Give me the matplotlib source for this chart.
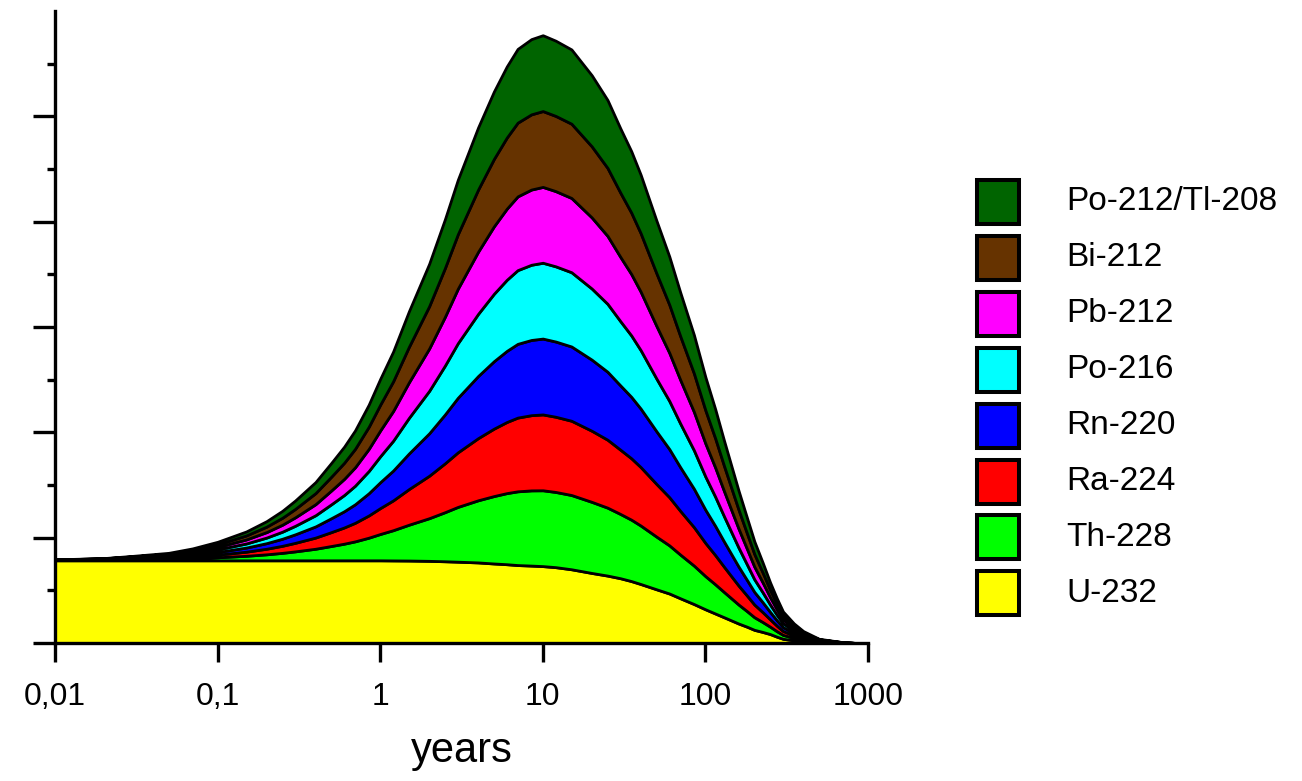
import numpy as np
import matplotlib
matplotlib.use("Agg")
import matplotlib.pyplot as plt
from matplotlib.patches import Rectangle
from matplotlib.ticker import NullLocator

plt.rcParams['font.family'] = ['Liberation Sans', 'DejaVu Sans']

# time axis (years) and activity of each nuclide
years = [0.01, 0.02, 0.03, 0.05, 0.07, 0.1, 0.15, 0.2, 0.25, 0.3, 0.4, 0.5, 0.6, 0.7, 0.85,
         1, 1.2, 1.5, 2, 2.5, 3, 4, 5, 6, 7, 8.5, 10, 12, 15, 20, 25, 30, 35, 40, 50,
         60, 70, 85, 100, 115, 130, 160, 180, 200, 225, 250, 275, 300, 350, 400, 500, 700, 850]

u232 = [0.785, 0.785, 0.785, 0.785, 0.785, 0.785, 0.785, 0.785, 0.785, 0.785, 0.785, 0.785,
        0.785, 0.785, 0.785, 0.785, 0.784, 0.783, 0.78, 0.776, 0.772, 0.765, 0.755, 0.748,
        0.74, 0.735, 0.73, 0.72, 0.70, 0.665, 0.64, 0.615, 0.588, 0.56, 0.51, 0.47, 0.425,
        0.37, 0.32, 0.28, 0.245, 0.185, 0.155, 0.125, 0.105, 0.085, 0.06, 0.04, 0.025, 0.015,
        0.005, 0.001, 0.0]
th228 = [0.003, 0.006, 0.009, 0.014, 0.02, 0.029, 0.043, 0.057, 0.071, 0.085, 0.11, 0.136,
         0.158, 0.18, 0.215, 0.25, 0.287, 0.34, 0.405, 0.466, 0.52, 0.59, 0.64, 0.675, 0.70,
         0.714, 0.72, 0.714, 0.705, 0.675, 0.645, 0.61, 0.583, 0.555, 0.50, 0.457, 0.415,
         0.365, 0.315, 0.277, 0.24, 0.18, 0.148, 0.12, 0.094, 0.07, 0.052, 0.037, 0.023,
         0.014, 0.005, 0.001, 0.0]
ra224 = [0.001, 0.003, 0.006, 0.01, 0.016, 0.025, 0.039, 0.053, 0.067, 0.081, 0.106, 0.132,
         0.154, 0.176, 0.211, 0.246, 0.283, 0.338, 0.403, 0.464, 0.518, 0.59, 0.64, 0.675, 0.70,
         0.714, 0.72, 0.714, 0.705, 0.675, 0.645, 0.61, 0.583, 0.555, 0.50, 0.457, 0.415,
         0.365, 0.315, 0.277, 0.24, 0.18, 0.148, 0.12, 0.094, 0.07, 0.052, 0.037, 0.023,
         0.014, 0.005, 0.001, 0.0]
rn220 = [0.001, 0.003, 0.006, 0.01, 0.016, 0.025, 0.039, 0.053, 0.067, 0.081, 0.106, 0.132,
         0.154, 0.176, 0.211, 0.246, 0.283, 0.338, 0.403, 0.464, 0.518, 0.59, 0.64, 0.675, 0.70,
         0.714, 0.72, 0.714, 0.705, 0.675, 0.645, 0.61, 0.583, 0.555, 0.50, 0.457, 0.415,
         0.365, 0.315, 0.277, 0.24, 0.18, 0.148, 0.12, 0.094, 0.07, 0.052, 0.037, 0.023,
         0.014, 0.005, 0.001, 0.0]
po216 = [0.001, 0.003, 0.006, 0.01, 0.016, 0.025, 0.039, 0.053, 0.067, 0.081, 0.106, 0.132,
         0.154, 0.176, 0.211, 0.246, 0.283, 0.338, 0.403, 0.464, 0.518, 0.59, 0.64, 0.675, 0.70,
         0.714, 0.72, 0.714, 0.705, 0.675, 0.645, 0.61, 0.583, 0.555, 0.50, 0.457, 0.415,
         0.365, 0.315, 0.277, 0.24, 0.18, 0.148, 0.12, 0.094, 0.07, 0.052, 0.037, 0.023,
         0.014, 0.005, 0.001, 0.0]
pb212 = [0.001, 0.002, 0.005, 0.009, 0.015, 0.024, 0.038, 0.052, 0.066, 0.08, 0.105, 0.131,
         0.153, 0.175, 0.21, 0.245, 0.282, 0.337, 0.402, 0.463, 0.517, 0.59, 0.64, 0.675, 0.70,
         0.714, 0.72, 0.714, 0.705, 0.675, 0.645, 0.61, 0.583, 0.555, 0.50, 0.457, 0.415,
         0.365, 0.315, 0.277, 0.24, 0.18, 0.148, 0.12, 0.094, 0.07, 0.052, 0.037, 0.023,
         0.014, 0.005, 0.001, 0.0]
bi212 = [0.001, 0.002, 0.005, 0.009, 0.015, 0.024, 0.038, 0.052, 0.066, 0.08, 0.105, 0.131,
         0.153, 0.175, 0.21, 0.245, 0.282, 0.337, 0.402, 0.463, 0.517, 0.59, 0.64, 0.675, 0.70,
         0.714, 0.72, 0.714, 0.705, 0.675, 0.645, 0.61, 0.583, 0.555, 0.50, 0.457, 0.415,
         0.365, 0.315, 0.277, 0.24, 0.18, 0.148, 0.12, 0.094, 0.07, 0.052, 0.037, 0.023,
         0.014, 0.005, 0.001, 0.0]
po212 = [0.001, 0.002, 0.005, 0.009, 0.015, 0.024, 0.038, 0.052, 0.066, 0.08, 0.105, 0.131,
         0.153, 0.175, 0.21, 0.245, 0.282, 0.337, 0.402, 0.463, 0.517, 0.59, 0.64, 0.675, 0.70,
         0.714, 0.72, 0.714, 0.705, 0.675, 0.645, 0.61, 0.583, 0.555, 0.50, 0.457, 0.415,
         0.365, 0.315, 0.277, 0.24, 0.18, 0.148, 0.12, 0.094, 0.07, 0.052, 0.037, 0.023,
         0.014, 0.005, 0.001, 0.0]

names = ["U-232", "Th-228", "Ra-224", "Rn-220", "Po-216", "Pb-212", "Bi-212", "Po-212/Tl-208"]
colors = ["#ffff00", "#00ff00", "#ff0000", "#0000ff", "#00ffff", "#ff00ff", "#663300", "#006400"]

xticks = [0.01, 0.1, 1, 10, 100, 1000]
xticklabels = ["0,01", "0,1", "1", "10", "100", "1000"]

W, H = 1302, 781
fig = plt.figure(figsize=(W / 100, H / 100), dpi=100)
ax = fig.add_axes([55 / W, (H - 643) / H, 813 / W, (643 - 11) / H])

ax.stackplot(years, u232, th228, ra224, rn220, po216, pb212, bi212, po212,
             colors=colors, edgecolor="black", linewidth=2.0)

ax.set_xscale("log")
ax.set_xlim(0.01, 1000)
ax.set_ylim(0, 6.0)

for s in ["top", "right"]:
    ax.spines[s].set_visible(False)
for s in ["left", "bottom"]:
    ax.spines[s].set_linewidth(2.4)

ax.set_xticks(xticks)
ax.set_xticklabels(xticklabels, fontsize=23)
ax.xaxis.set_minor_locator(NullLocator())
ax.tick_params(axis="x", direction="out", length=14, width=2.4, pad=14)

ax.set_yticks(range(6))
ax.set_yticks(np.arange(0.5, 6, 1), minor=True)
ax.set_yticklabels([])
ax.tick_params(axis="y", which="major", direction="out", length=16, width=2.4)
ax.tick_params(axis="y", which="minor", direction="out", length=6, width=2.4)

ax.set_xlabel("years", fontsize=30, labelpad=14)

# legend drawn by hand, top entry first
box_tops = [178, 234, 290, 346, 402, 458, 513, 569]
for top, name, col in zip(box_tops, names[::-1], colors[::-1]):
    fig.add_artist(Rectangle((977 / W, 1 - (top + 46) / H), 42 / W, 44 / H,
                             transform=fig.transFigure, facecolor=col,
                             edgecolor="black", linewidth=2.9))
    fig.text(1066 / W, 1 - (top + 24) / H, name, fontsize=24, va="center", ha="left")

fig.savefig("out.png", dpi=100)
